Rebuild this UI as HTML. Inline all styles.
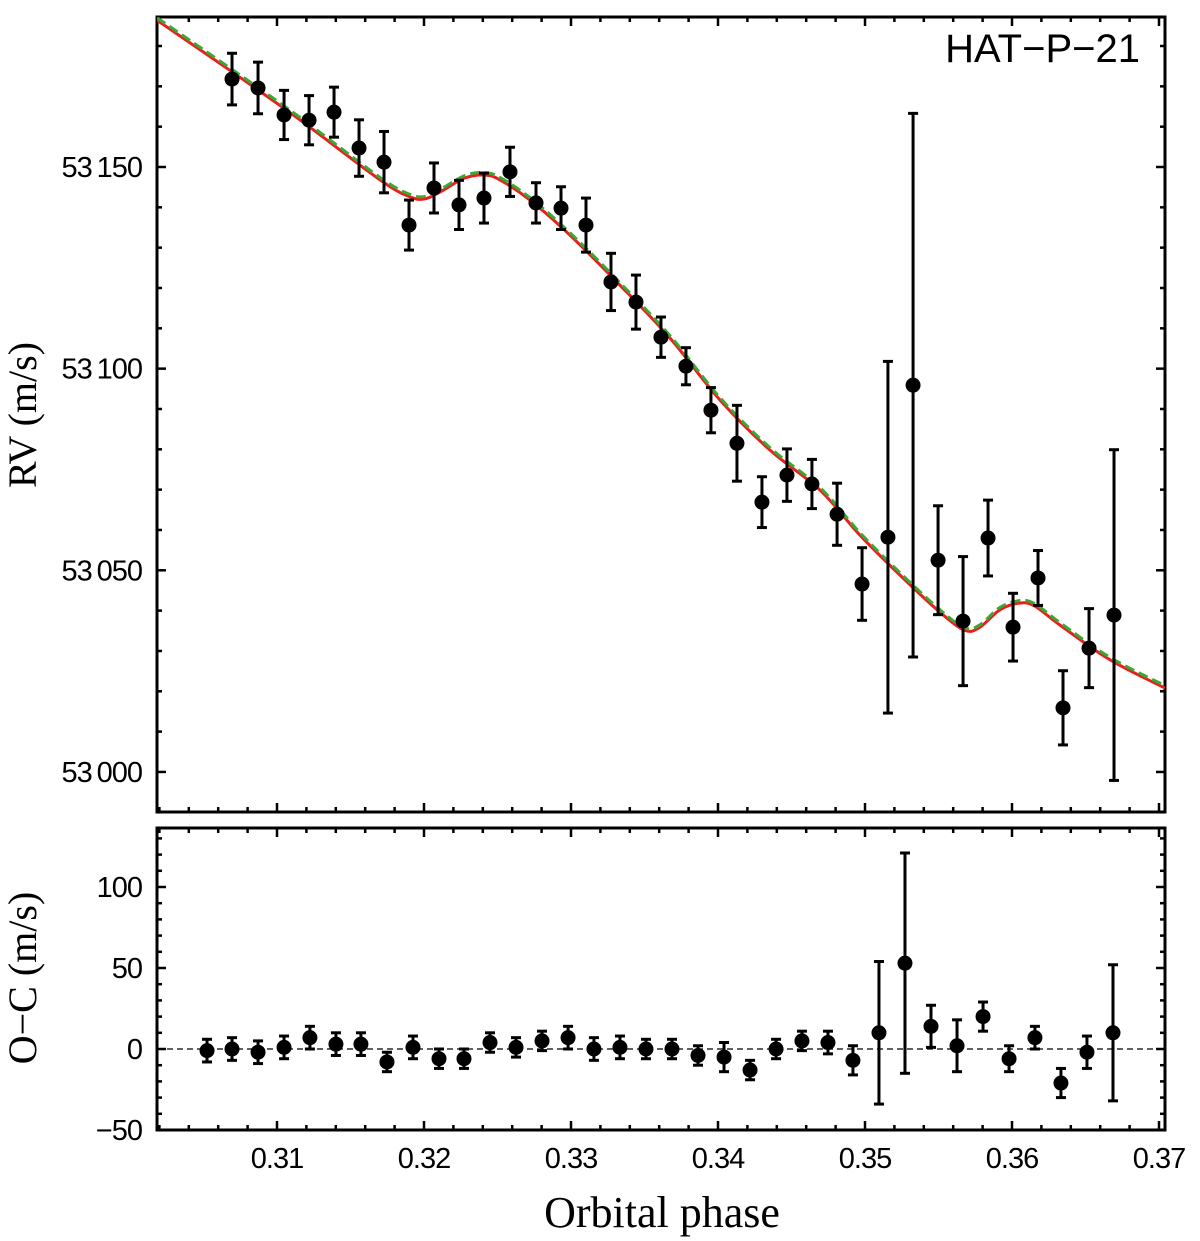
<!DOCTYPE html>
<html><head><meta charset="utf-8"><style>
html,body{margin:0;padding:0;background:#fff;}
svg{display:block;}
.tk{font-family:"Liberation Sans",sans-serif;font-size:29px;letter-spacing:-1px;fill:#000;}
.ser{font-family:"Liberation Serif",serif;font-size:40px;fill:#000;}
</style></head><body>
<svg id="chart" width="1200" height="1241" viewBox="0 0 1200 1241">
<rect x="0" y="0" width="1200" height="1241" fill="#fff"/>
<g id="topPanel"></g>
<g id="botPanel"></g>
<text class="ser" x="36" y="415" text-anchor="middle" transform="rotate(-90 36 415)">RV (m/s)</text>
<text class="ser" x="36" y="978" text-anchor="middle" transform="rotate(-90 36 978)">O−C (m/s)</text>
<text class="ser" x="662" y="1227" text-anchor="middle" style="font-size:44px">Orbital phase</text>
<text x="1140" y="62" text-anchor="end" style="font-family:'Liberation Sans',sans-serif;font-size:40px">HAT−P−21</text>
</svg>
<script>
const rvPhase=[0.30694,0.30871,0.31048,0.31218,0.31388,0.31558,0.31728,0.31898,0.32068,0.32238,0.32408,0.32585,0.32762,0.32932,0.33102,0.33272,0.33442,0.33612,0.33782,0.33952,0.34129,0.34299,0.34469,0.34639,0.34810,0.34980,0.35156,0.35327,0.35497,0.35667,0.35837,0.36007,0.36177,0.36347,0.36524,0.36694];
const rvValue=[53171.8,53169.6,53162.9,53161.6,53163.6,53154.7,53151.2,53135.6,53144.8,53140.6,53142.3,53148.8,53141.1,53139.8,53135.6,53121.5,53116.5,53107.8,53100.6,53089.7,53081.5,53066.9,53073.6,53071.4,53063.9,53046.6,53058.2,53095.9,53052.5,53037.4,53058.0,53035.9,53048.1,53015.9,53030.7,53038.9];
const rvError=[6.4,6.4,6.1,6.1,6.2,7.0,7.6,6.2,6.2,6.1,6.2,6.1,5.0,5.3,6.7,7.1,6.7,5.0,4.6,5.6,9.4,6.3,6.5,6.1,7.7,9.0,43.6,67.4,13.5,16.0,9.4,8.4,6.8,9.2,9.8,41.0];
const modelPhase=[0.30184,0.30694,0.31156,0.31701,0.31905,0.32007,0.32109,0.32279,0.32415,0.32517,0.32721,0.32993,0.33333,0.33673,0.34014,0.34354,0.34694,0.34966,0.35238,0.35510,0.35680,0.35782,0.35918,0.36054,0.36156,0.36327,0.36667,0.37041];
const modelRed=[53186.4,53173.6,53161.7,53146.8,53142.6,53142.1,53143.8,53147.3,53148.0,53146.8,53141.8,53133.1,53120.7,53107.6,53092.2,53079.8,53069.9,53058.7,53048.8,53039.6,53035.1,53035.9,53040.2,53041.9,53041.1,53036.4,53027.8,53020.8];
const modelGreen=[53187.0,53174.2,53162.3,53147.4,53143.2,53142.7,53144.4,53147.9,53148.6,53147.4,53142.4,53133.7,53121.3,53108.2,53092.8,53080.4,53070.5,53059.3,53049.4,53040.2,53035.7,53036.5,53040.8,53042.5,53041.7,53037.0,53028.4,53021.4];
const ocPhase=[0.30524,0.30694,0.30871,0.31048,0.31224,0.31401,0.31571,0.31748,0.31925,0.32102,0.32272,0.32449,0.32626,0.32803,0.32980,0.33156,0.33333,0.33510,0.33687,0.33864,0.34041,0.34218,0.34395,0.34571,0.34748,0.34918,0.35095,0.35272,0.35449,0.35626,0.35803,0.35980,0.36156,0.36333,0.36510,0.36687];
const ocValue=[-1,0,-2,1,7,3,3,-8,1,-6,-6,4,1,5,7,0,1,0,0,-4,-5,-13,0,5,4,-7,10,53,14,2,20,-6,7,-21,-2,10];
const ocError=[7,7,7,7,7,7,7,6,7,6,6,6,6,6,7,7,7,6,6,6,9,6,6,6,7,9,44,68,13,16,9,8,7,9,10,42];
const xTicks=[0.31,0.32,0.33,0.34,0.35,0.36,0.37];
const xTickLabels=["0.31","0.32","0.33","0.34","0.35","0.36","0.37"];
const rvTicks=[53000,53050,53100,53150];
const rvTickLabels=["53\u2009000","53\u2009050","53\u2009100","53\u2009150"];
const ocTicks=[-50,0,50,100];
const ocTickLabels=["\u221250","0","50","100"];

const NS="http://www.w3.org/2000/svg";
const L=157,R=1165;
const X=p=>277+(p-0.31)*14700;
const T={top:17,bot:812};
const Yrv=v=>167-(v-53150)*4.033;
const B={top:828,bot:1130};
const Yoc=v=>1049-v*1.62;
function mk(par,tag,at){const e=document.createElementNS(NS,tag);for(const k in at)e.setAttribute(k,at[k]);par.appendChild(e);return e;}
function frame(g,t0,b0,name){
  const r=mk(g,'rect',{x:L,y:t0,width:R-L,height:b0-t0,fill:'none',stroke:'#000','stroke-width':3});
  
  
  for(let k=151;k<=185;k++){const p=k*0.002;const x=X(p);const maj=(k%5===0);const len=maj?9:5;
    mk(g,'line',{x1:x,x2:x,y1:b0,y2:b0-len,stroke:'#000','stroke-width':2.5});
    mk(g,'line',{x1:x,x2:x,y1:t0,y2:t0+len,stroke:'#000','stroke-width':2.5});}
}
const topG=document.getElementById('topPanel'),botG=document.getElementById('botPanel');
frame(topG,T.top,T.bot,'rv-plot-frame');frame(botG,B.top,B.bot,'residual-plot-frame');
for(let v=52990;v<=53187;v+=10){const y=Yrv(v);const maj=v%50===0;const len=maj?9:5;
  mk(topG,'line',{x1:L,x2:L+len,y1:y,y2:y,stroke:'#000','stroke-width':2.5});
  mk(topG,'line',{x1:R,x2:R-len,y1:y,y2:y,stroke:'#000','stroke-width':2.5});}
rvTicks.forEach((v,i)=>{const t=mk(topG,'text',{x:142,y:Yrv(v)+10,'text-anchor':'end',class:'tk'});t.textContent=rvTickLabels[i];
  
  });
for(let v=-50;v<=135;v+=10){const y=Yoc(v);const maj=v%50===0;const len=maj?9:5;
  mk(botG,'line',{x1:L,x2:L+len,y1:y,y2:y,stroke:'#000','stroke-width':2.5});
  mk(botG,'line',{x1:R,x2:R-len,y1:y,y2:y,stroke:'#000','stroke-width':2.5});}
ocTicks.forEach((v,i)=>{const t=mk(botG,'text',{x:142,y:Yoc(v)+10,'text-anchor':'end',class:'tk'});t.textContent=ocTickLabels[i];
  
  });
xTicks.forEach((p,i)=>{const t=mk(botG,'text',{x:X(p),y:1168,'text-anchor':'middle',class:'tk'});t.textContent=xTickLabels[i];
  
  });
const z=mk(botG,'line',{x1:L,x2:R,y1:Yoc(0),y2:Yoc(0),stroke:'#000','stroke-width':1.3,'stroke-dasharray':'6,4'});


function smooth(px,py){let d=`M${px[0]},${py[0]}`;for(let i=0;i<px.length-1;i++){const p0=i?i-1:i,p3=i+2<px.length?i+2:i+1;
  const c1x=px[i]+(px[i+1]-px[p0])/6,c1y=py[i]+(py[i+1]-py[p0])/6,c2x=px[i+1]-(px[p3]-px[i])/6,c2y=py[i+1]-(py[p3]-py[i])/6;
  d+=`C${c1x},${c1y} ${c2x},${c2y} ${px[i+1]},${py[i+1]}`;}return d;}
const cl=mk(topG,'clipPath',{id:'clipTop'});mk(cl,'rect',{x:L,y:T.top,width:R-L,height:T.bot-T.top});
const red=mk(topG,'path',{d:smooth(modelPhase.map(X),modelRed.map(Yrv)),fill:'none',stroke:'#ee1c1c','stroke-width':3,'clip-path':'url(#clipTop)'});


const grn=mk(topG,'path',{d:smooth(modelPhase.map(X),modelGreen.map(Yrv)),fill:'none',stroke:'#3aa832','stroke-width':3,'stroke-dasharray':'10,5','clip-path':'url(#clipTop)'});


function pts(g,ph,val,err,Y,name){ph.forEach((p,i)=>{const x=X(p),y=Y(val[i]),y1=Y(val[i]+err[i]),y2=Y(val[i]-err[i]);
  const gg=mk(g,'g',{});
  
  
  mk(gg,'line',{x1:x,x2:x,y1:y1,y2:y2,stroke:'#000','stroke-width':3});
  mk(gg,'line',{x1:x-5,x2:x+5,y1:y1,y2:y1,stroke:'#000','stroke-width':3});
  mk(gg,'line',{x1:x-5,x2:x+5,y1:y2,y2:y2,stroke:'#000','stroke-width':3});
  mk(gg,'circle',{cx:x,cy:y,r:7.5,fill:'#000'});});}
pts(topG,rvPhase,rvValue,rvError,Yrv,'rv-point');
pts(botG,ocPhase,ocValue,ocError,Yoc,'residual-point');
</script>
</body></html>
